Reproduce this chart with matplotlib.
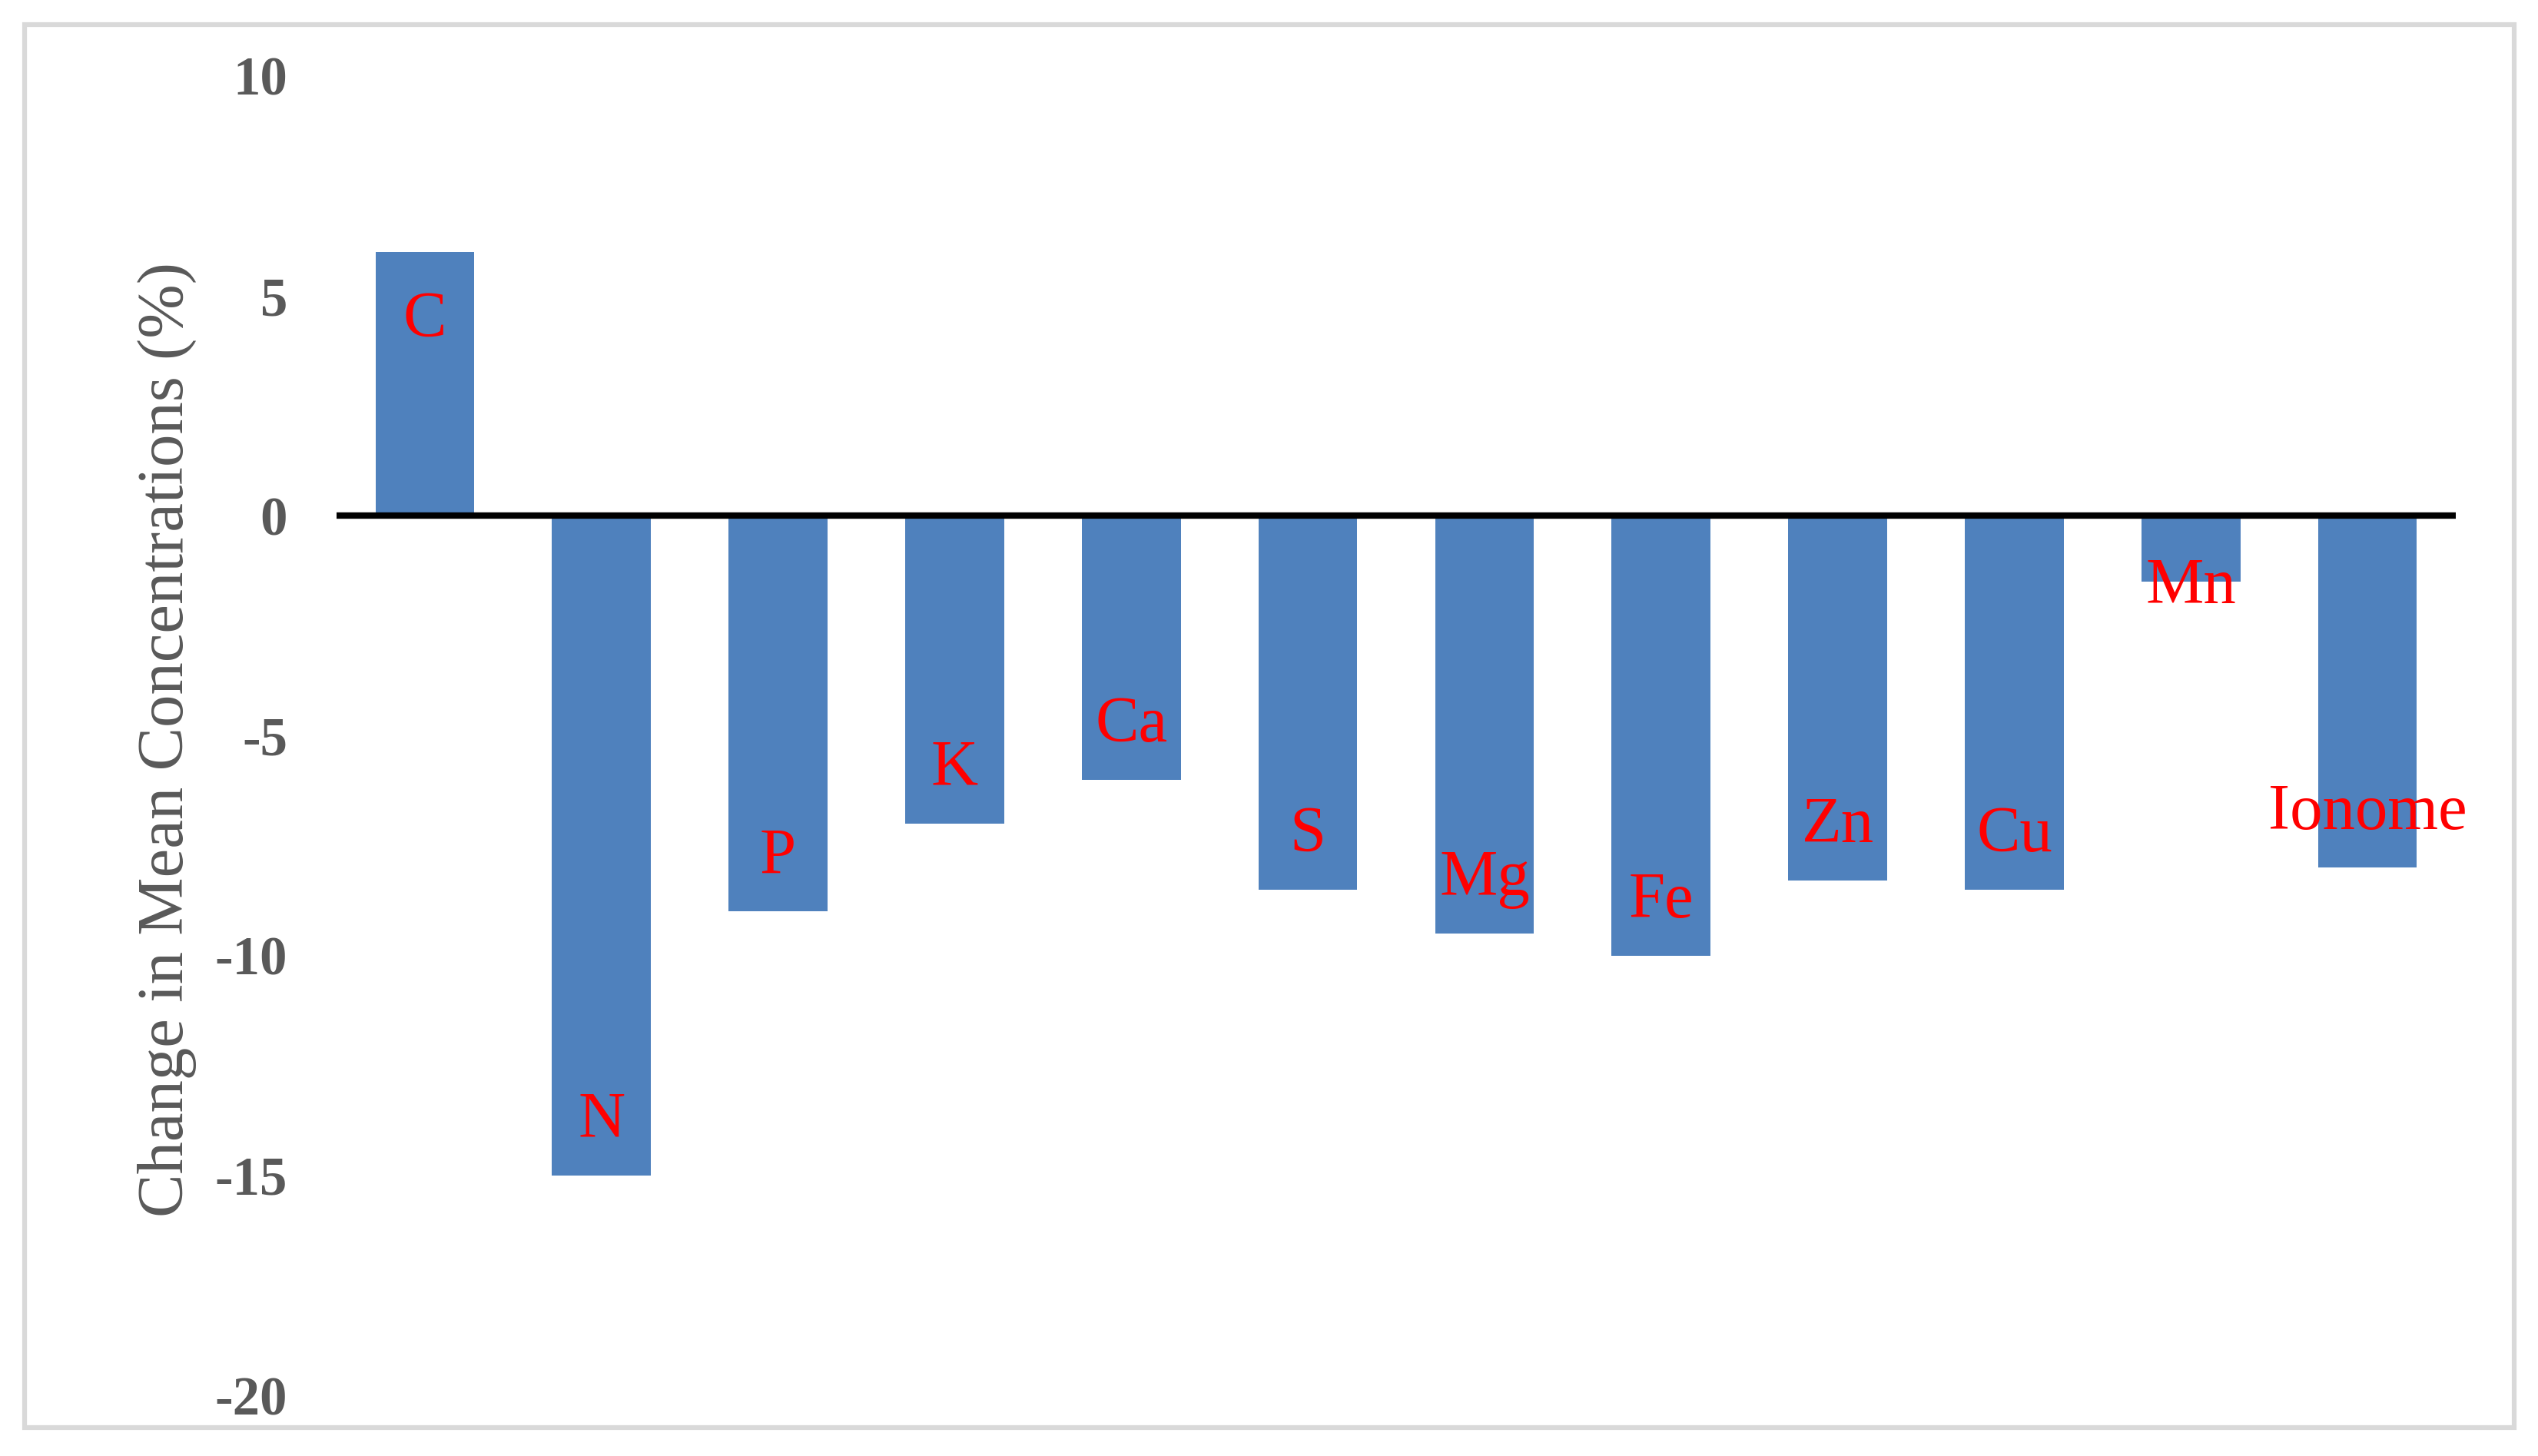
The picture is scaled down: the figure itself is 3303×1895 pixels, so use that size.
import matplotlib
matplotlib.use('Agg')
import matplotlib.pyplot as plt
from matplotlib.patches import Rectangle
import numpy as np

plt.rcParams['font.family'] = ['Liberation Serif', 'DejaVu Serif']

# data
elements = ['C', 'N', 'P', 'K', 'Ca', 'S', 'Mg', 'Fe', 'Zn', 'Cu', 'Mn', 'Ionome']
change = [6.0, -15.0, -9.0, -7.0, -6.0, -8.5, -9.5, -10.0, -8.3, -8.5, -1.5, -8.0]
yticks = [10, 5, 0, -5, -10, -15, -20]

# label baseline offset from bar end, in points
label_off = [-79, 36, 36, 36, 36, 36, 36, 36, 36, 36, -20, 36]

W, H, DPI = 3303, 1895, 100
fig = plt.figure(figsize=(W / DPI, H / DPI), dpi=DPI)
ax = fig.add_axes([438 / W, 1 - 1816 / H, (3196 - 438) / W, (1816 - 99) / H])

x = np.arange(len(elements))
ax.bar(x, change, width=0.56, color='#4F81BD', zorder=2)
ax.axhline(0, color='black', lw=6, zorder=3)

for i, (name, v) in enumerate(zip(elements, change)):
    ax.annotate(name, (i, v), xytext=(0, label_off[i]), textcoords='offset points',
                ha='center', va='baseline', color='red', fontsize=61, zorder=4)

ax.set_xlim(-0.5, len(elements) - 0.5)
ax.set_ylim(-20, 10)
ax.set_xticks([])
ax.set_yticks(yticks)
ax.set_yticklabels([str(t) for t in yticks], fontsize=51, fontweight='bold', color='#595959')
ax.tick_params(axis='y', length=0, pad=46)
for s in ax.spines.values():
    s.set_visible(False)

fig.text(217 / W, 1 - 963 / H, 'Change in Mean Concentrations (%)', rotation=90,
         ha='center', va='center', fontsize=61, color='#595959')

# outer chart frame
fig.patches.append(Rectangle((32 / W, 1 - 1858 / H), (3272 - 32) / W, (1858 - 32) / H,
                             transform=fig.transFigure, fill=False,
                             edgecolor='#D9D9D9', lw=4.5))

fig.savefig('out.png', dpi=DPI)
